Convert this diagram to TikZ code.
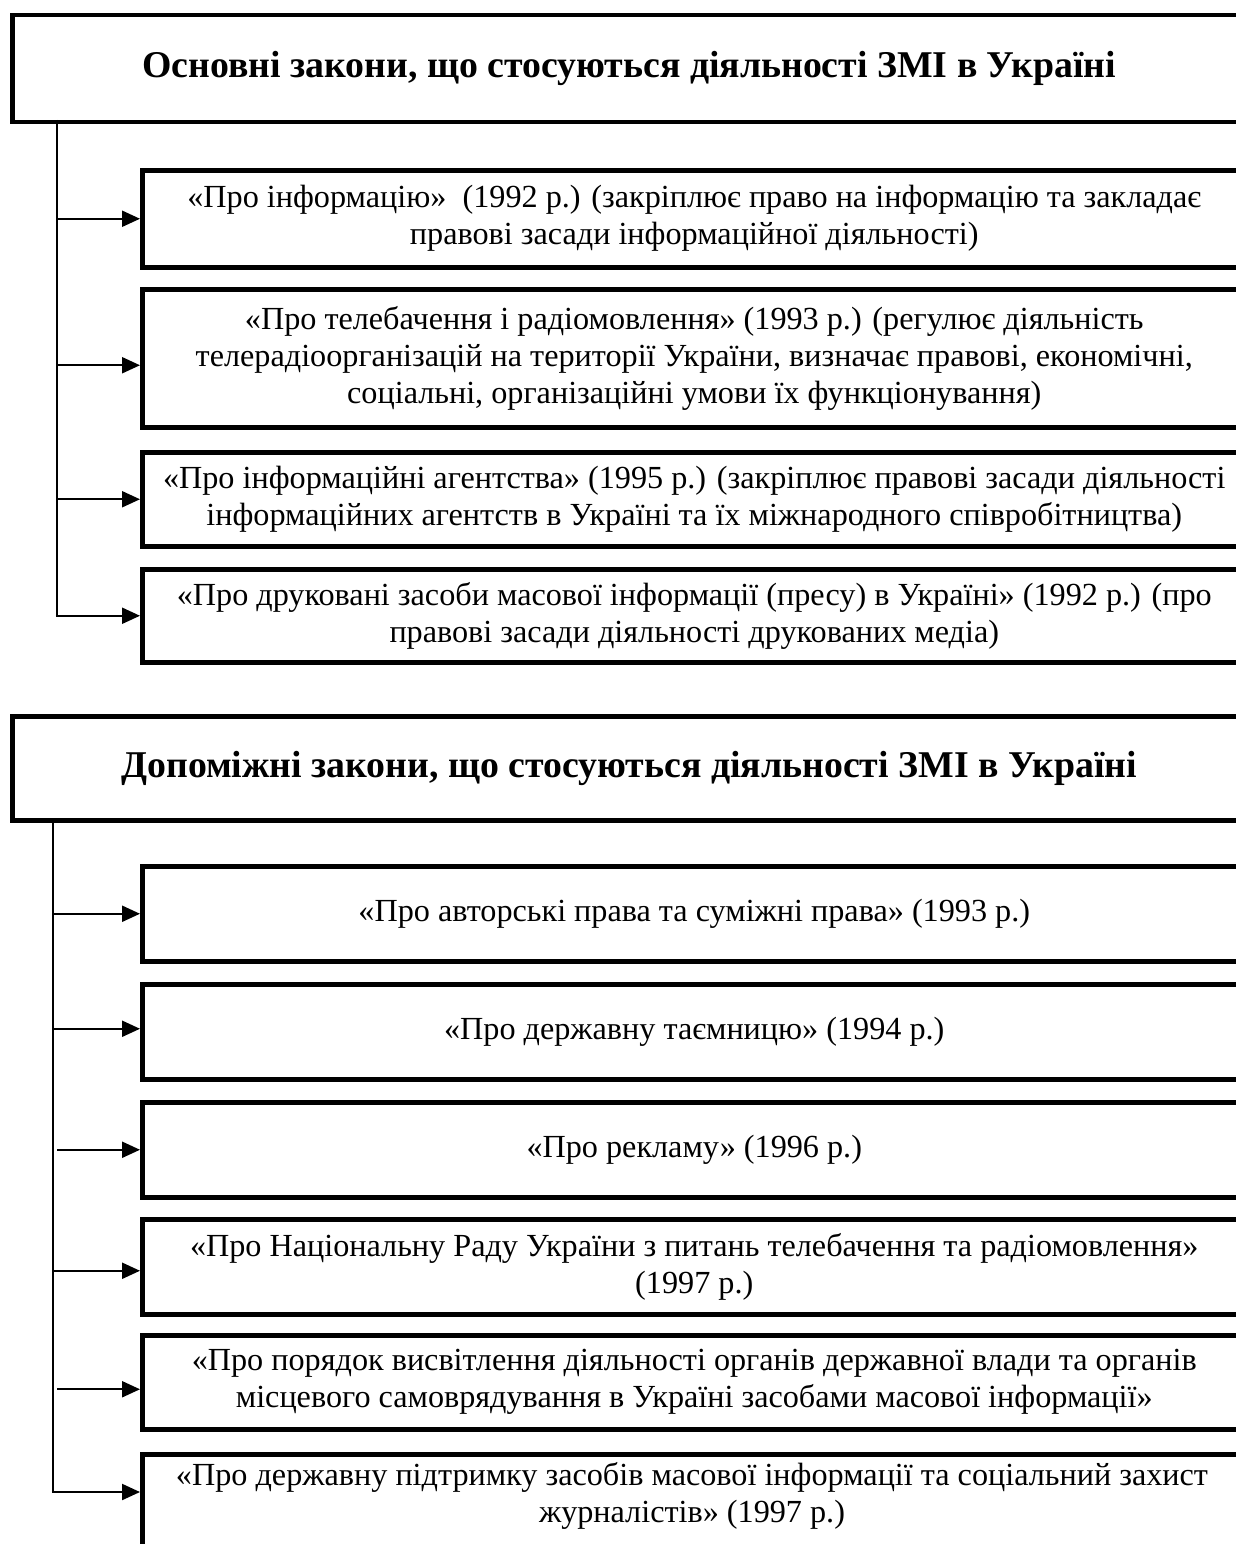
\documentclass[tikz,border=0pt]{standalone}
\usepackage{fontspec}
\setmainfont{Liberation Serif}
\usetikzlibrary{arrows.meta,calc}
\begin{document}
\begin{tikzpicture}[x=1pt,y=-1pt,
  hdr/.style={draw,line width=4.5pt,anchor=north west,minimum width=1234pt,inner sep=0pt,
    font=\bfseries\fontsize{37.8}{44}\selectfont,align=center},
  lawbox/.style={draw,line width=4.5pt,anchor=north west,minimum width=1104pt,inner sep=0pt,
    font=\fontsize{32.2}{37}\selectfont,align=center},
  lawtext/.style={inner sep=0pt,font=\fontsize{32.2}{37}\selectfont,align=center},
  trunk/.style={line width=2.2pt},
  conn/.style={line width=2.2pt,-{Triangle[length=18pt,width=16pt]}}]
\useasboundingbox (0,0) rectangle (1236,1544);
\clip (0,0) rectangle (1236,1544);
\fill[white] (0,0) rectangle (1236,1544);

% --- section 1 ---
\node[hdr,minimum height=107pt] (h1) at (10,13) {\raisebox{-3pt}{Основні закони, що стосуються діяльності ЗМІ в Україні}};
\node[lawbox,minimum height=97pt] (b1) at (140,168) {«Про інформацію»\ \ (1992 р.) (закріплює право на інформацію та закладає\\правові засади інформаційної діяльності)};
\node[lawbox,minimum height=138pt] (b2) at (140,287) {«Про телебачення і радіомовлення» (1993 р.) (регулює діяльність\\телерадіоорганізацій на території України, визначає правові, економічні,\\соціальні, організаційні умови їх функціонування)};
\node[lawbox,minimum height=94pt] (b3) at (140,450) {«Про інформаційні агентства» (1995 р.) (закріплює правові засади діяльності\\інформаційних агентств в Україні та їх міжнародного співробітництва)};
\node[lawbox,minimum height=93pt] (b4) at (140,567) {«Про друковані засоби масової інформації (пресу) в Україні» (1992 р.) (про\\правові засади діяльності друкованих медіа)};

\coordinate (t1) at (57,120);
\draw[trunk] (t1) -- (t1 |- b4.west);
\draw[conn] (b1.west -| t1) -- (b1.west);
\draw[conn] ([yshift=-7pt]b2.west -| t1) -- ([yshift=-7pt]b2.west);
\draw[conn] (b3.west -| t1) -- (b3.west);
\draw[conn] ([xshift=-1.1pt]t1 |- b4.west) -- (b4.west);

% --- section 2 ---
\node[hdr,minimum height=104pt] (h2) at (10,714) {\raisebox{-3pt}{Допоміжні закони, що стосуються діяльності ЗМІ в Україні}};
\node[lawbox,minimum height=95pt] (b5) at (140,864) {«Про авторські права та суміжні права» (1993 р.)};
\node[lawbox,minimum height=95pt] (b6) at (140,982) {«Про державну таємницю» (1994 р.)};
\node[lawbox,minimum height=95pt] (b7) at (140,1100) {«Про рекламу» (1996 р.)};
\node[lawbox,minimum height=95pt] (b8) at (140,1217) {«Про Національну Раду України з питань телебачення та радіомовлення»\\(1997 р.)};
\node[lawbox,minimum height=94pt] (b9) at (140,1333) {«Про порядок висвітлення діяльності органів державної влади та органів\\місцевого самоврядування в Україні засобами масової інформації»};
\node[lawbox,minimum height=110pt] (b10) at (140,1452) {};
\node[lawtext] (t10) at (692,1496) {«Про державну підтримку засобів масової інформації та соціальний захист\\журналістів» (1997 р.)};

\coordinate (t2) at (53,818);
\coordinate (t2e) at (53,1492);
\draw[trunk] (t2) -- (t2e);
\draw[conn] (b5.west -| t2) -- (b5.west);
\draw[conn] ([yshift=3pt]b6.west -| t2) -- ([yshift=3pt]b6.west);
\draw[conn] ([xshift=4pt]b7.west -| t2) -- (b7.west);
\draw[conn] ([yshift=-4pt]b8.west -| t2) -- ([yshift=-4pt]b8.west);
\draw[conn] ([xshift=4pt,yshift=-7pt]b9.west -| t2) -- ([yshift=-7pt]b9.west);
\draw[conn] ([xshift=-1.1pt]t2e) -- (t2e -| b10.west);
\end{tikzpicture}
\end{document}
